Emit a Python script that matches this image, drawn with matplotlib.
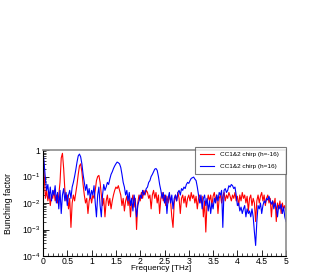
import numpy as np
import matplotlib
matplotlib.use('Agg')
from matplotlib import pyplot as plt
from matplotlib.ticker import LogLocator, MultipleLocator, NullFormatter

plt.rcParams['font.family'] = ['Liberation Sans', 'DejaVu Sans']
plt.rcParams['mathtext.fontset'] = 'custom'
plt.rcParams['mathtext.rm'] = 'Liberation Sans'
plt.rcParams['mathtext.it'] = 'Liberation Sans'
plt.rcParams['mathtext.default'] = 'regular'

# frequency grid [THz], step 0.025
freq = np.linspace(0, 5, 201)

# CC1&2 chirp (h=-16)
red_vals = [
    1.0, 0.1, 0.015, 0.03, 0.012, 0.025, 0.008, 0.02, 0.015, 0.03,
    0.012, 0.02, 0.01, 0.02, 0.06, 0.5, 0.75, 0.2, 0.03, 0.012,
    0.02, 0.006, 0.015, 0.0012, 0.01, 0.02, 0.012, 0.025, 0.05, 0.12,
    0.25, 0.3, 0.15, 0.05, 0.02, 0.01, 0.015, 0.004, 0.012, 0.02,
    0.01, 0.02, 0.015, 0.03, 0.07, 0.1, 0.11, 0.06, 0.02, 0.008,
    0.015, 0.003, 0.012, 0.02, 0.008, 0.015, 0.006, 0.012, 0.02, 0.03,
    0.04, 0.035, 0.045, 0.03, 0.02, 0.008, 0.015, 0.005, 0.012, 0.018,
    0.008, 0.015, 0.003, 0.012, 0.02, 0.007, 0.015, 0.001, 0.01, 0.02,
    0.012, 0.025, 0.015, 0.03, 0.02, 0.03, 0.025, 0.015, 0.02, 0.006,
    0.02, 0.03, 0.015, 0.025, 0.01, 0.02, 0.004, 0.015, 0.025, 0.012,
    0.02, 0.008, 0.018, 0.01, 0.02, 0.012, 0.003, 0.0012, 0.01, 0.02,
    0.012, 0.025, 0.015, 0.004, 0.015, 0.02, 0.01, 0.018, 0.007, 0.015,
    0.02, 0.012, 0.025, 0.015, 0.02, 0.01, 0.018, 0.006, 0.015, 0.02,
    0.01, 0.018, 0.003, 0.012, 0.0008, 0.01, 0.02, 0.012, 0.02, 0.008,
    0.018, 0.025, 0.012, 0.02, 0.004, 0.015, 0.02, 0.01, 0.018, 0.025,
    0.012, 0.02, 0.015, 0.025, 0.018, 0.012, 0.02, 0.015, 0.025, 0.012,
    0.018, 0.008, 0.02, 0.012, 0.025, 0.015, 0.02, 0.01, 0.018, 0.005,
    0.015, 0.02, 0.008, 0.015, 0.01, 0.002, 0.012, 0.02, 0.01, 0.018,
    0.025, 0.012, 0.02, 0.008, 0.015, 0.02, 0.01, 0.015, 0.003, 0.012,
    0.008, 0.015, 0.002, 0.01, 0.006, 0.012, 0.004, 0.01, 0.006, 0.008,
    0.005,
]

# CC1&2 chirp (h=16)
blue_vals = [
    1.0, 0.3, 0.08, 0.03, 0.05, 0.015, 0.04, 0.012, 0.03, 0.02,
    0.045, 0.01, 0.025, 0.006, 0.03, 0.004, 0.02, 0.035, 0.012, 0.025,
    0.008, 0.02, 0.03, 0.015, 0.04, 0.06, 0.1, 0.18, 0.35, 0.6,
    0.7, 0.55, 0.3, 0.12, 0.06, 0.03, 0.05, 0.02, 0.035, 0.015,
    0.03, 0.02, 0.045, 0.01, 0.003, 0.02, 0.04, 0.008, 0.003, 0.02,
    0.05, 0.03, 0.04, 0.06, 0.05, 0.08, 0.12, 0.15, 0.2, 0.25,
    0.3, 0.35, 0.33, 0.3, 0.22, 0.12, 0.06, 0.04, 0.02, 0.03,
    0.012, 0.025, 0.008, 0.015, 0.005, 0.02, 0.01, 0.003, 0.008, 0.012,
    0.02, 0.015, 0.03, 0.02, 0.025, 0.035, 0.04, 0.06, 0.07, 0.1,
    0.12, 0.15, 0.19, 0.2, 0.17, 0.1, 0.05, 0.03, 0.015, 0.025,
    0.01, 0.02, 0.004, 0.015, 0.025, 0.01, 0.02, 0.006, 0.015, 0.02,
    0.012, 0.025, 0.03, 0.02, 0.035, 0.03, 0.04, 0.035, 0.05, 0.06,
    0.055, 0.07, 0.085, 0.09, 0.095, 0.08, 0.07, 0.04, 0.02, 0.01,
    0.02, 0.006, 0.015, 0.02, 0.008, 0.015, 0.005, 0.012, 0.004, 0.01,
    0.006, 0.015, 0.01, 0.02, 0.012, 0.025, 0.02, 0.03, 0.0012, 0.03,
    0.035, 0.025, 0.03, 0.045, 0.04, 0.05, 0.045, 0.035, 0.04, 0.02,
    0.008, 0.01, 0.005, 0.007, 0.004, 0.006, 0.008, 0.003, 0.006, 0.004,
    0.005, 0.003, 0.006, 0.003, 0.0008, 0.00025, 0.002, 0.008, 0.006, 0.01,
    0.004, 0.008, 0.012, 0.01, 0.015, 0.013, 0.018, 0.012, 0.009, 0.012,
    0.006, 0.01, 0.007, 0.003, 0.008, 0.006, 0.009, 0.004, 0.007, 0.003,
    0.002,
]

xticks = [0, 0.5, 1, 1.5, 2, 2.5, 3, 3.5, 4, 4.5, 5]
xticklabels = ['0', '0.5', '1', '1.5', '2', '2.5', '3', '3.5', '4', '4.5', '5']
yticks = [1e-4, 1e-3, 1e-2, 1e-1, 1]
yticklabels = ['$10^{-4}$', '$10^{-3}$', '$10^{-2}$', '$10^{-1}$', '1']

fig = plt.figure(figsize=(3.27, 2.73), dpi=100)
ax = fig.add_axes([43 / 327, 1 - 256 / 273, 243 / 327, 106 / 273])

ax.plot(freq, red_vals, color='#ff0000', lw=0.8, label='CC1&2 chirp (h=-16)')
ax.plot(freq, blue_vals, color='#0000ff', lw=0.8, label='CC1&2 chirp (h=16)')

ax.set_yscale('log')
ax.set_xlim(0, 5)
ax.set_ylim(1e-4, 1)

ax.set_xticks(xticks)
ax.set_xticklabels(xticklabels)
ax.xaxis.set_minor_locator(MultipleLocator(0.1))
ax.set_yticks(yticks)
ax.set_yticklabels(yticklabels)
ax.yaxis.set_minor_locator(LogLocator(base=10, subs=np.arange(2, 10)))
ax.yaxis.set_minor_formatter(NullFormatter())

ax.tick_params(axis='both', which='major', direction='in', length=4, width=0.6,
               labelsize=6.2)
ax.tick_params(axis='x', which='major', pad=1)
ax.tick_params(axis='y', which='major', pad=2)
ax.tick_params(axis='both', which='minor', direction='in', length=2, width=0.5)

for s in ['left', 'bottom']:
    ax.spines[s].set_linewidth(0.8)
for s in ['top', 'right']:
    ax.spines[s].set_color('0.55')
    ax.spines[s].set_linewidth(1.2)

ax.set_ylabel('Bunching factor', fontsize=6.3,
              family=['Liberation Sans Narrow', 'Liberation Sans'])
ax.yaxis.set_label_coords(-0.123, 0.5)
ax.set_xlabel('Frequency [THz]', fontsize=5.9)
ax.xaxis.set_label_coords(0.485, -0.12)
ax.xaxis.label.set_verticalalignment('center')

leg = ax.legend(loc='upper left', bbox_to_anchor=(195 / 327, 1 - 147 / 273, 91 / 327, 0.001),
                bbox_transform=fig.transFigure, mode='expand', fontsize=4.6,
                frameon=True, fancybox=False, borderpad=0.75, labelspacing=1.0,
                handlelength=2.3, handletextpad=0.8, borderaxespad=0)
leg.get_frame().set_edgecolor('0.35')
leg.get_frame().set_linewidth(0.8)

fig.savefig('out.png', dpi=100)
